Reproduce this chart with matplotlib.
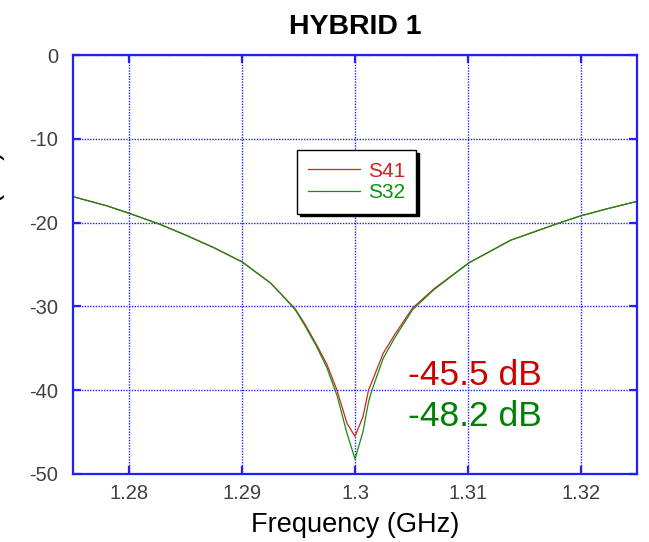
import matplotlib
matplotlib.use("Agg")
import matplotlib.pyplot as plt

plt.rcParams['font.family'] = ['Liberation Sans', 'DejaVu Sans']
plt.rcParams['axes.unicode_minus'] = False

# Isolation of the hybrid around the 1.3 GHz centre frequency
freq = [1.275, 1.278, 1.280, 1.2827, 1.285, 1.2875, 1.290, 1.2925, 1.2935,
        1.2947, 1.2956, 1.2966, 1.2975, 1.2984, 1.2993, 1.300, 1.3007,
        1.3012, 1.3015, 1.3025, 1.3035, 1.3051, 1.3070, 1.3101, 1.3138,
        1.3182, 1.3200, 1.3225, 1.3249]
s41 = [-16.9, -18.0, -18.9, -20.2, -21.5, -23.0, -24.7, -27.2, -28.6,
       -30.3, -32.2, -34.6, -36.9, -40.0, -44.0, -45.5, -43.2,
       -40.0, -39.0, -35.6, -33.4, -30.2, -27.9, -24.8, -22.1,
       -20.0, -19.2, -18.3, -17.5]
s32 = [-16.9, -18.0, -18.9, -20.2, -21.5, -23.0, -24.7, -27.2, -28.6,
       -30.4, -32.4, -34.8, -37.3, -40.6, -45.2, -48.2, -45.0,
       -41.4, -40.0, -36.2, -33.8, -30.4, -28.0, -24.8, -22.1,
       -20.0, -19.2, -18.3, -17.5]
s41_min = -45.5
s32_min = -48.2

xticks = [1.28, 1.29, 1.30, 1.31, 1.32]
xticklabels = ['1.28', '1.29', '1.3', '1.31', '1.32']
yticks = [0, -10, -20, -30, -40, -50]

blue = '#2020ff'
red = '#d42020'
green = '#109010'

fig = plt.figure(figsize=(6.49, 5.42), dpi=100)
ax = fig.add_axes([0.1125, 0.1255, 0.869, 0.773])

ax.plot(freq, s41, color=red, lw=0.9, label='S41')
ax.plot(freq, s32, color=green, lw=0.9, label='S32')

ax.set_xlim(1.275, 1.325)
ax.set_ylim(-50, 0)
ax.set_xticks(xticks)
ax.set_xticklabels(xticklabels)
ax.set_yticks(yticks)

ax.grid(True, color=blue, linestyle=(0, (1, 1)), linewidth=1.0)
for sp in ax.spines.values():
    sp.set_color(blue)
    sp.set_linewidth(1.6)
ax.tick_params(direction='in', length=6, width=1.6, color=blue,
               top=True, right=True, labelsize=14.5, labelcolor='#404040')
ax.tick_params(axis='x', pad=7)
ax.tick_params(axis='y', pad=10.5)

ax.set_title('HYBRID 1', fontsize=20.5, fontweight='bold', pad=15)
ax.set_xlabel('Frequency (GHz)', fontsize=19.5, labelpad=7)
fig.text(0.008, 1 - 150 / 542, 'Isolation (dB)', rotation=90,
         ha='right', va='top', fontsize=20)

ax.text(1.3047, -38.2, f'{s41_min} dB', color='#cc0000', fontsize=25.5,
        ha='left', va='center')
ax.text(1.3047, -43.1, f'{s32_min} dB', color='#008000', fontsize=25.5,
        ha='left', va='center')

leg = ax.legend(loc='center', bbox_to_anchor=(0.503, 0.697), fontsize=15,
                fancybox=False, edgecolor='black', framealpha=1,
                handlelength=2.5, handletextpad=0.35, borderpad=0.55,
                labelspacing=0.12, borderaxespad=0,
                shadow={'facecolor': 'black', 'edgecolor': 'black', 'alpha': 1})
leg.get_frame().set_linewidth(1.0)
for txt, c in zip(leg.get_texts(), [red, green]):
    txt.set_color(c)

fig.savefig('out.png', dpi=100)
